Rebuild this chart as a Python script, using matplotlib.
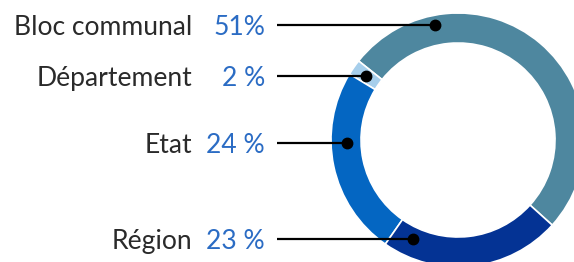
import matplotlib
matplotlib.use("Agg")
import matplotlib.pyplot as plt

# data
labels = ["Bloc communal", "Département", "Etat", "Région"]
shares = [51, 2, 24, 23]
share_text = ["51%", "2 %", "24 %", "23 %"]
colors = ["#4E879F", "#A6CEEB", "#0466C2", "#043394"]

# layout (pixels, from top-left)
W, H = 574, 262
cx, cy = 458, 140
r_out, ring = 127, 30
label_y = [25, 76, 143, 239]
dot_x = [435, 366, 347, 413]
line_x0 = 277
name_x = 192
pct_x = 265

plt.rcParams['font.family'] = ['Lato', 'DejaVu Sans']

fig = plt.figure(figsize=(W / 100, H / 100), dpi=100)
ax = fig.add_axes([0, 0, 1, 1])

ax.pie(shares, colors=colors, startangle=-42.1, counterclock=True,
       radius=r_out, center=(cx, H - cy),
       wedgeprops=dict(width=ring, edgecolor="white", linewidth=1.2))

fs = 26.5 * 0.72
for name, pct, y, dx in zip(labels, share_text, label_y, dot_x):
    yy = H - y
    ax.plot([line_x0, dx], [yy, yy], color="black", lw=1.6, solid_capstyle="butt")
    ax.plot(dx, yy, "o", color="black", ms=7.5)
    ax.text(name_x, yy - 10, name, ha="right", va="baseline",
            fontsize=fs, color="#2a2a2a")
    ax.text(pct_x, yy - 10, pct, ha="right", va="baseline",
            fontsize=fs, color="#2B6CC4")

ax.set_xlim(0, W)
ax.set_ylim(0, H)
ax.set_aspect("auto")
ax.axis("off")

fig.savefig("out.png", dpi=100)
